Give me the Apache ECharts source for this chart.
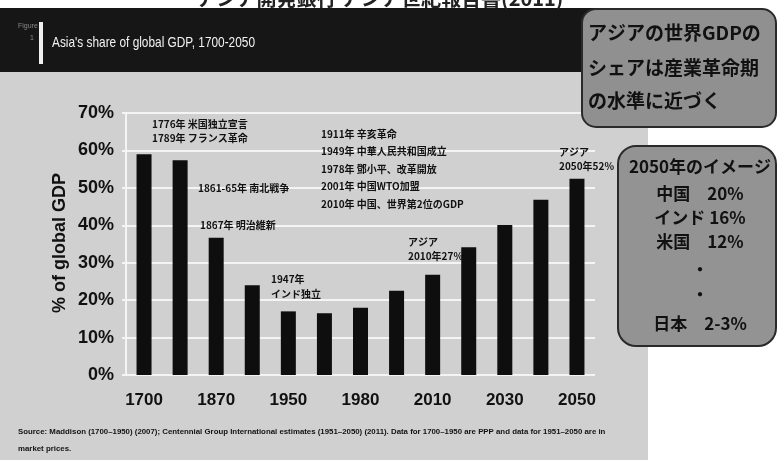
<!DOCTYPE html>
<html><head><meta charset="utf-8">
<script src="https://cdn.jsdelivr.net/npm/echarts@6/dist/echarts.min.js"></script>
<style>html,body{margin:0;padding:0;background:#fff}#c{width:779px;height:460px}</style>
</head><body><div id="c"></div>
<script>
// ---- data ----
const categories = ['1700','1820','1870','1913','1950','1973','1980','2000','2010','2020','2030','2040','2050'];
const shareValues = [59, 57.4, 36.7, 24, 17, 16.5, 18, 22.5, 26.8, 34.1, 40.1, 46.8, 52.4];
const yMin = 0, yMax = 70, yStep = 10;
const chartTitle = "Asia's share of global GDP, 1700-2050";
const yAxisTitle = '% of global GDP';
const topCaption = 'アジア開発銀行 アジア世紀報告書(2011)';
const noteA = ['1776年 米国独立宣言', '1789年 フランス革命'];
const noteB = ['1861-65年 南北戦争'];
const noteC = ['1867年 明治維新'];
const noteD = ['1947年', 'インド独立'];
const noteE = ['1911年 辛亥革命', '1949年 中華人民共和国成立', '1978年 鄧小平、改革開放', '2001年 中国WTO加盟', '2010年 中国、世界第2位のGDP'];
const noteF = ['アジア', '2010年27%'];
const noteG = ['アジア', '2050年52%'];
const box1Lines = ['アジアの世界GDPの', 'シェアは産業革命期', 'の水準に近づく'];
const box2Lines = ['2050年のイメージ', '中国　20%', 'インド 16%', '米国　12%', '・', '・', '日本　2-3%'];
const sourceLines = ['Source: Maddison (1700–1950) (2007); Centennial Group International estimates (1951–2050) (2011). Data for 1700–1950 are PPP and data for 1951–2050 are in', 'market prices.'];

// ---- styling ----
const SANS = '"Liberation Sans",Arial,sans-serif';
const JP = '"Noto Sans CJK JP","Noto Sans CJK SC",sans-serif';

function textLines(lines, x, ys, font, align, z, sx) {
  return lines.map((t, i) => ({
    type: 'text', x: x, y: ys[i], z: z || 50, scaleX: sx || 1,
    style: { text: t, font: font, fill: '#111', textAlign: align || 'left', textVerticalAlign: 'middle' }
  }));
}
function steps(y0, dy, n) { const a = []; for (let i = 0; i < n; i++) a.push(y0 + i * dy); return a; }

const graphics = [
  { type: 'rect', z: -100, shape: { x: 0, y: 70, width: 648, height: 390 }, style: { fill: '#d0d0d0' } },
  { type: 'rect', z: -90, shape: { x: 0, y: 8, width: 600, height: 64 }, style: { fill: '#161616' } },
  { type: 'text', x: 380, y: -2, z: 50, style: { text: topCaption, font: 'bold 20px ' + JP, fill: '#222', textAlign: 'center', textVerticalAlign: 'middle' } },
  { type: 'text', x: 18, y: 26, z: 50, style: { text: 'Figure', font: '7px ' + SANS, fill: '#888', textAlign: 'left', textVerticalAlign: 'middle' } },
  { type: 'text', x: 30, y: 38, z: 50, style: { text: '1', font: '7px ' + SANS, fill: '#888', textAlign: 'left', textVerticalAlign: 'middle' } },
  { type: 'rect', z: 50, shape: { x: 39, y: 22, width: 4, height: 42 }, style: { fill: '#f0f0f0' } },
  { type: 'text', x: 52, y: 43, z: 50, scaleX: 0.79, style: { text: chartTitle, font: '15px ' + SANS, fill: '#f2f2f2', textAlign: 'left', textVerticalAlign: 'middle' } },
  { type: 'text', x: 60, y: 243, rotation: Math.PI / 2, z: 50, style: { text: yAxisTitle, font: 'bold 18px ' + SANS, fill: '#111', textAlign: 'center', textVerticalAlign: 'middle' } },
  // callout boxes
  { type: 'rect', z: 60, shape: { x: 582, y: 9, width: 194, height: 118, r: 14 }, style: { fill: '#909090', stroke: '#2a2a2a', lineWidth: 2 } },
  { type: 'rect', z: 60, shape: { x: 618, y: 146, width: 158, height: 200, r: 18 }, style: { fill: '#939393', stroke: '#2a2a2a', lineWidth: 2 } },
].concat(
  textLines(noteA, 152, steps(124, 14, 2), 'bold 10px ' + JP),
  textLines(noteB, 198, [188], 'bold 10px ' + JP),
  textLines(noteC, 200, [225], 'bold 10px ' + JP),
  textLines(noteD, 271, steps(279, 15, 2), 'bold 10px ' + JP),
  textLines(noteE, 321, steps(134, 17.5, 5), 'bold 10px ' + JP),
  textLines(noteF, 408, steps(242, 14, 2), 'bold 10px ' + JP),
  textLines(noteG, 559, steps(152, 14, 2), 'bold 10px ' + JP),
  textLines(sourceLines, 18, steps(432, 17, 2), 'bold 8px ' + SANS, 'left', 50, 0.98),
  textLines(box1Lines, 588, [33, 68, 101], 'bold 19px ' + JP, 'left', 70),
  textLines(box2Lines, 700, [167, 194, 218, 242, 270, 295, 324], 'bold 17px ' + JP, 'center', 70)
);

const chart = echarts.init(document.getElementById('c'), null, { renderer: 'canvas' });
chart.setOption({
  backgroundColor: '#ffffff',
  animation: false,
  grid: { left: 126, right: 184, top: 113, bottom: 85 },
  xAxis: {
    type: 'category', data: categories,
    axisLine: { show: false }, axisTick: { show: false },
    axisLabel: { interval: 1, margin: 17, fontFamily: SANS, fontWeight: 'bold', fontSize: 17, color: '#111' }
  },
  yAxis: {
    type: 'value', min: yMin, max: yMax, interval: yStep,
    axisLine: { show: true, lineStyle: { color: '#f4f4f4', width: 2 } },
    axisTick: { show: true, length: 4, lineStyle: { color: '#f4f4f4', width: 2 } },
    splitLine: { show: true, lineStyle: { color: '#f4f4f4', width: 2 } },
    axisLabel: { formatter: '{value}%', margin: 12, fontFamily: SANS, fontWeight: 'bold', fontSize: 18, color: '#111' }
  },
  series: [{
    type: 'bar', data: shareValues, barWidth: 15,
    itemStyle: { color: '#0e0e0e' }
  }],
  graphic: { elements: graphics }
});
</script>
</body></html>
